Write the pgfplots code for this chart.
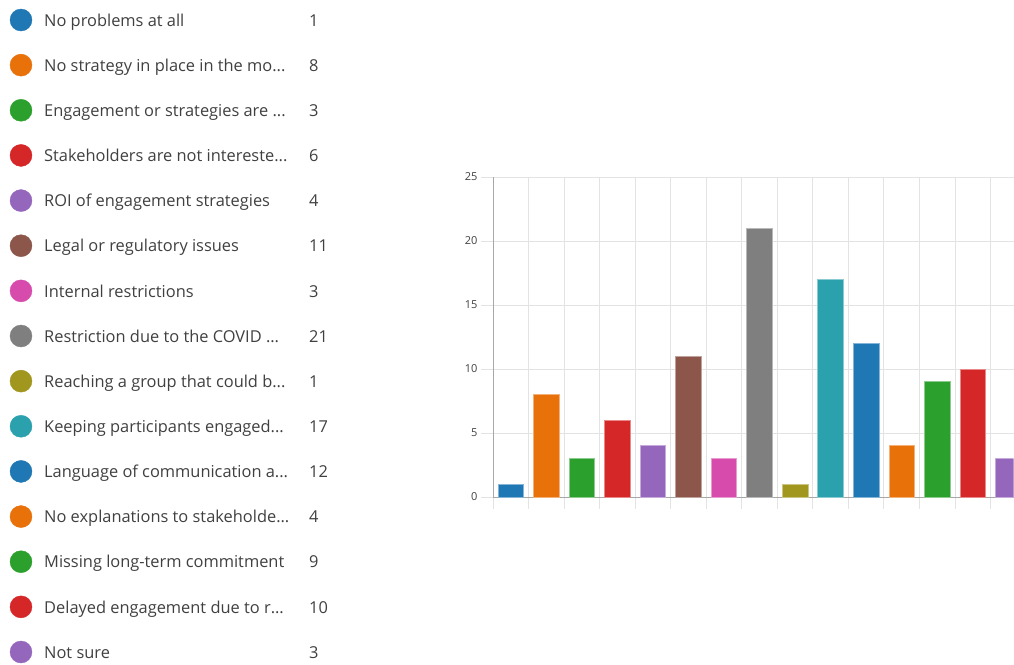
\documentclass[border=0pt]{standalone}
\usepackage{pgfplots}
\pgfplotsset{compat=1.18}
\usepackage{pgfplotstable}
\usepackage{fontspec}
\setmainfont{Open Sans}
\definecolor{c1}{HTML}{1F77B4}
\definecolor{c2}{HTML}{E8710A}
\definecolor{c3}{HTML}{2CA02C}
\definecolor{c4}{HTML}{D62728}
\definecolor{c5}{HTML}{9467BD}
\definecolor{c6}{HTML}{8C564B}
\definecolor{c7}{HTML}{D64BAB}
\definecolor{c8}{HTML}{7F7F7F}
\definecolor{c9}{HTML}{A1961E}
\definecolor{c10}{HTML}{2AA1AC}
\definecolor{c11}{HTML}{1F77B4}
\definecolor{c12}{HTML}{E8710A}
\definecolor{c13}{HTML}{2CA02C}
\definecolor{c14}{HTML}{D62728}
\definecolor{c15}{HTML}{9467BD}
\definecolor{txt}{HTML}{404040}
\definecolor{gridc}{HTML}{E3E3E3}
\definecolor{axc}{HTML}{A8A8A8}

\pgfplotstableread[col sep=comma,row sep=\\]{%
idx,pos,count,label\\%
1,0.5,1,No problems at all\\%
2,1.5,8,No strategy in place in the mo...\\%
3,2.5,3,Engagement or strategies are ...\\%
4,3.5,6,Stakeholders are not intereste...\\%
5,4.5,4,ROI of engagement strategies\\%
6,5.5,11,Legal or regulatory issues\\%
7,6.5,3,Internal restrictions\\%
8,7.5,21,Restriction due to the COVID ...\\%
9,8.5,1,Reaching a group that could b...\\%
10,9.5,17,Keeping participants engaged...\\%
11,10.5,12,Language of communication a...\\%
12,11.5,4,No explanations to stakeholde...\\%
13,12.5,9,Missing long-term commitment\\%
14,13.5,10,Delayed engagement due to r...\\%
15,14.5,3,Not sure\\%
}\data

\begin{document}
\begin{tikzpicture}
\useasboundingbox (0pt,0pt) rectangle (1014pt,664pt);
% legend panel
\begin{axis}[at={(0pt,0pt)}, anchor=south west, scale only axis,
  width=340pt, height=664pt, xmin=0, xmax=340, ymin=0.557, ymax=15.266,
  y dir=reverse, hide axis, clip=false]
\pgfplotsinvokeforeach{1,...,15}{
  \addplot[only marks, mark=*, mark size=11pt, mark options={fill=c#1, draw=c#1}]
    table[x expr=21, y=idx, restrict expr to domain={\thisrow{idx}}{#1:#1}] {\data};
}
\addplot[draw=none, mark=none, nodes near coords, point meta=explicit symbolic,
  nodes near coords style={anchor=base west, inner sep=0pt, yshift=-6.2pt,
    font=\fontsize{16.4}{19}\selectfont, text=txt}]
  table[x expr=44, y=idx, meta=label] {\data};
\addplot[draw=none, mark=none, nodes near coords, point meta=explicit symbolic,
  nodes near coords style={anchor=base west, inner sep=0pt, yshift=-6.2pt,
    font=\fontsize{16.4}{19}\selectfont, text=txt}]
  table[x expr=309, y=idx, meta=count] {\data};
\end{axis}
% bar chart
\begin{axis}[at={(493pt,167pt)}, anchor=south west, scale only axis,
  width=520.7pt, height=320pt, xmin=0, xmax=14.655, ymin=0, ymax=25,
  axis x line*=bottom, axis y line*=left,
  xtick={0,...,15}, xticklabels={}, ytick={0,5,...,25},
  grid=major, grid style={gridc, line width=0.8pt},
  tick align=outside, major tick length=12pt,
  tick style={gridc, line width=0.8pt},
  axis line style={axc, line width=0.8pt},
  yticklabel style={font=\fontsize{11}{13}\selectfont, text=txt},
  /pgf/number format/assume math mode=true]
\pgfplotsinvokeforeach{1,...,15}{
  \addplot[ybar, bar shift=0pt, bar width=0.72, fill=c#1, draw=c#1!55!white, line width=0.6pt]
    table[x=pos, y=count, restrict expr to domain={\thisrow{idx}}{#1:#1}] {\data};
}
\end{axis}
\end{tikzpicture}
\end{document}
